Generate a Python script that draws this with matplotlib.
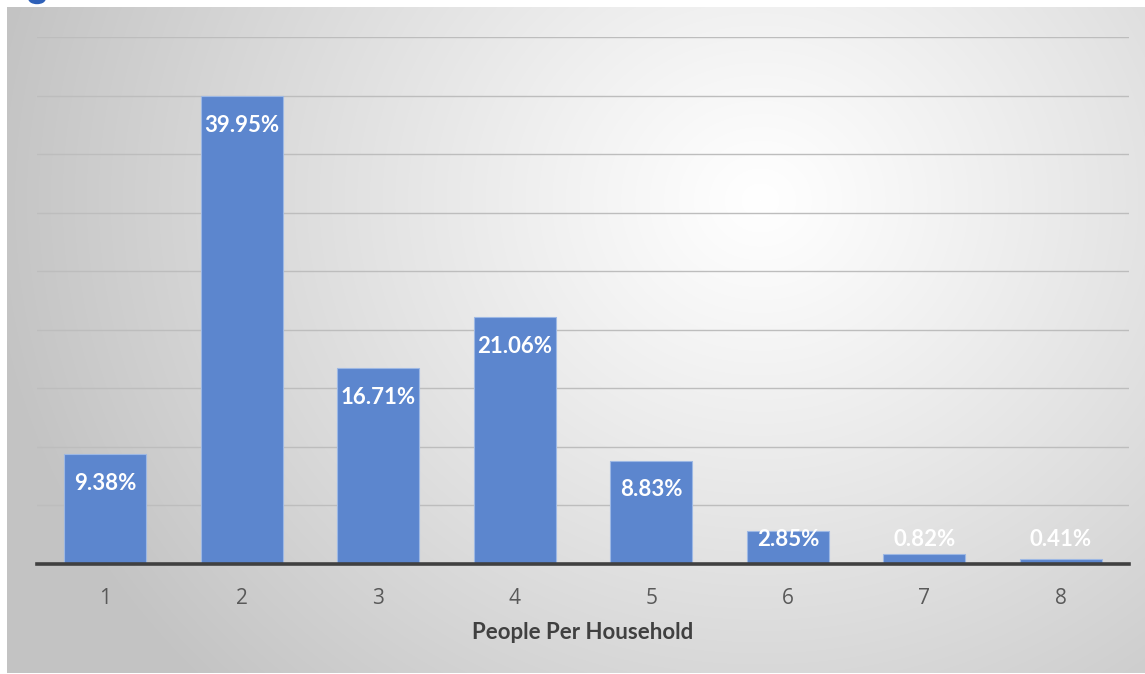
import numpy as np
import matplotlib
matplotlib.use("Agg")
import matplotlib.pyplot as plt
from matplotlib.patches import Ellipse

# Share of households by number of residents
household_size = ["1", "2", "3", "4", "5", "6", "7", "8"]
share_pct = [9.38, 39.95, 16.71, 21.06, 8.83, 2.85, 0.82, 0.41]
pct_labels = ["9.38%", "39.95%", "16.71%", "21.06%", "8.83%", "2.85%", "0.82%", "0.41%"]

W, H, DPI = 1145, 674, 100
fig = plt.figure(figsize=(W / DPI, H / DPI), dpi=DPI)
fig.patch.set_facecolor("white")

# Chart-area background: radial gradient, light in the middle, grey at the edges
bx0, by0, bx1, by1 = 7, 7, 1145, 673
bg = fig.add_axes([bx0 / W, 1 - by1 / H, (bx1 - bx0) / W, (by1 - by0) / H])
gw, gh = bx1 - bx0, by1 - by0
xx, yy = np.meshgrid(np.arange(gw), np.arange(gh))
cx, cy = 760 - bx0, 200 - by0
r = np.sqrt(((xx - cx) / 1.0) ** 2 + ((yy - cy) / 0.9) ** 2)
t = np.clip(r / 780.0, 0, 1) ** 1.1
val = 1.0 - 0.235 * t
bg.imshow(np.dstack([val, val, val]), aspect="auto", interpolation="bilinear")
bg.set_axis_off()

# Plot area
px0, px1, py_top, py_bot = 36.7, 1129.3, 37, 564
ax = fig.add_axes([px0 / W, 1 - py_bot / H, (px1 - px0) / W, (py_bot - py_top) / H])
ax.patch.set_alpha(0)

x = np.arange(len(household_size))
ax.bar(x, share_pct, width=0.6, color="#5C86CE", edgecolor="#9DB8E4",
       linewidth=0.8, zorder=3)

ax.set_xlim(-0.5, len(household_size) - 0.5)
ax.set_ylim(0, 45)
ax.set_yticks(np.arange(5, 46, 5))
ax.yaxis.grid(True, color="#BDBDBD", linewidth=1.0, zorder=0)
ax.tick_params(axis="y", left=False, labelleft=False)
ax.tick_params(axis="x", bottom=False, pad=14, labelsize=15, labelcolor="#595959")
ax.set_xticks(x)
ax.set_xticklabels(household_size, fontfamily=["Open Sans", "DejaVu Sans"])
for s in ["top", "right", "left"]:
    ax.spines[s].set_visible(False)
ax.spines["bottom"].set_color("#404040")
ax.spines["bottom"].set_linewidth(2.6)
ax.spines["bottom"].set_zorder(5)

# Value labels just inside the top of each bar, kept above the axis for short bars
offset = 2.48
floor = 2.05
for xi, v, lab in zip(x, share_pct, pct_labels):
    ax.text(xi, max(v - offset, floor), lab, ha="center", va="center",
            color="white", fontsize=16, fontweight="bold",
            fontfamily=["Lato", "DejaVu Sans"], zorder=6)

ax.set_xlabel("People Per Household", fontsize=16, fontweight="bold",
              color="#404040", fontfamily=["Lato", "DejaVu Sans"], labelpad=9)

# Edge of the heading glyph peeking in at the top-left
fig.patches.append(Ellipse((37 / W, 1 + 1 / H), 16 / W, 9 / H,
                           transform=fig.transFigure, color="#2E60B8"))

fig.savefig("out.png", dpi=DPI)
